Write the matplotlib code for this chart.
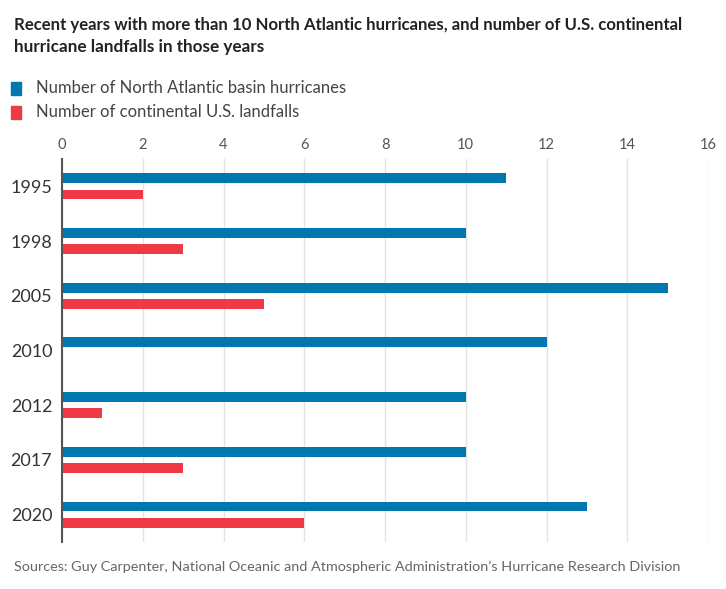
import matplotlib
matplotlib.use('Agg')
import matplotlib.pyplot as plt
import numpy as np

plt.rcParams['font.family'] = ['Lato', 'DejaVu Sans']

years = ['1995', '1998', '2005', '2010', '2012', '2017', '2020']
basin_hurricanes = [11, 10, 15, 12, 10, 10, 13]
us_landfalls = [2, 3, 5, 0, 1, 3, 6]

blue = '#0077ae'
red = '#ef3a45'

fig = plt.figure(figsize=(7.26, 5.89), dpi=100)
ax = fig.add_axes([62 / 726, 1 - 542 / 589, (708 - 62) / 726, (542 - 159) / 589])

pos = np.arange(len(years))
h = 0.18
ax.barh(pos - 0.15, basin_hurricanes, height=h, color=blue, zorder=3)
ax.barh(pos + 0.15, us_landfalls, height=h, color=red, zorder=3)

ax.set_xlim(0, 16)
ax.set_ylim(6.5, -0.5)
ax.set_xticks(range(0, 17, 2))
ax.set_yticks(pos)
ax.set_yticklabels(years)
ax.xaxis.tick_top()
ax.tick_params(axis='x', length=0, pad=5, labelsize=10.5, labelcolor='#555555')
ax.tick_params(axis='y', length=0, pad=7, labelsize=13, labelcolor='#333333')
ax.grid(axis='x', color='#e3e3e3', linewidth=1, zorder=0)
for s in ['top', 'right', 'bottom']:
    ax.spines[s].set_visible(False)
ax.spines['left'].set_color('#555555')
ax.spines['left'].set_linewidth(1.5)
ax.spines['left'].set_zorder(4)

renderer = fig.canvas.get_renderer()


def fit_text(x, y, s, width_px, size, **kw):
    t = fig.text(x / 726, 1 - y / 589, s, fontsize=size, va='center', **kw)
    w = t.get_window_extent(renderer).width
    t.set_fontsize(size * width_px / w)
    return t


fit_text(14, 25, 'Recent years with more than 10 North Atlantic hurricanes, and number of U.S. continental',
         669, 11, fontweight='bold', color='#222222')
fit_text(14, 47, 'hurricane landfalls in those years', 249, 11, fontweight='bold', color='#222222')

for i, (lbl, c, wpx) in enumerate([('Number of North Atlantic basin hurricanes', blue, 310),
                                   ('Number of continental U.S. landfalls', red, 262)]):
    y = 88 + i * 24
    fig.patches.append(plt.Rectangle((11 / 726, 1 - (y + 6.5) / 589), 10 / 726, 13 / 589,
                                     transform=fig.transFigure, color=c, figure=fig))
    fit_text(36, y, lbl, wpx, 12, color='#444444')

fit_text(14, 567, 'Sources: Guy Carpenter, National Oceanic and Atmospheric Administration\u2019s Hurricane Research Division',
         664, 11, color='#666666')

fig.savefig('out.png', dpi=100)
